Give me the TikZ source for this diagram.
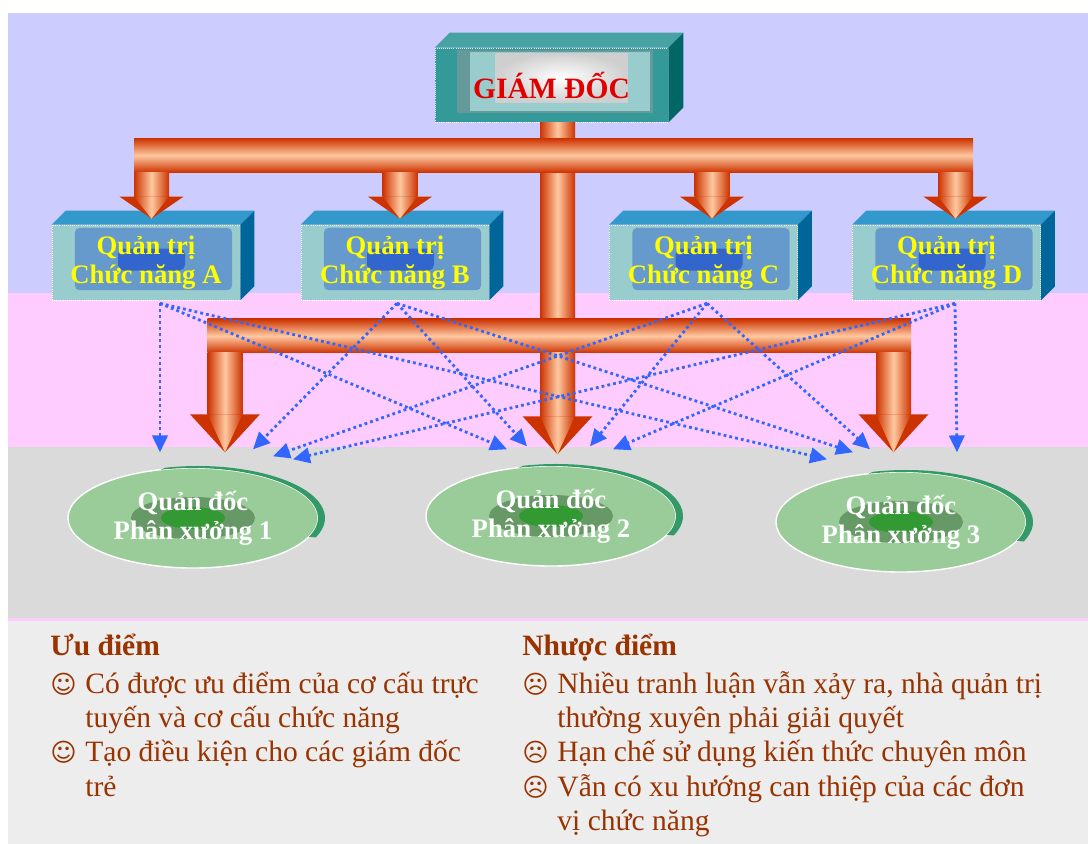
\documentclass[tikz,border=0pt]{standalone}
\usepackage{fontspec}
\setmainfont{Liberation Serif}
\newfontfamily\symfont{DejaVu Sans}
\usetikzlibrary{calc,positioning,arrows.meta,shapes.geometric}

\definecolor{skyband}{HTML}{CCCCFF}
\definecolor{pinkband}{HTML}{FFCCFF}
\definecolor{greyband}{HTML}{DADADA}
\definecolor{noteband}{HTML}{EDEDED}
\definecolor{gdteal}{HTML}{339999}
\definecolor{gdpanel}{HTML}{99CCCC}
\definecolor{gdbevel}{HTML}{669999}
\definecolor{gdcore}{HTML}{CFCFCF}
\definecolor{gdside}{HTML}{006666}
\definecolor{gdred}{HTML}{E00000}
\definecolor{unitfront}{HTML}{99CCCC}
\definecolor{unitpanel}{HTML}{6699CC}
\definecolor{unitcore}{HTML}{3366CC}
\definecolor{unittop}{HTML}{3399CC}
\definecolor{unitside}{HTML}{006699}
\definecolor{unittext}{HTML}{FFFF00}
\definecolor{shopgreen}{HTML}{99CC99}
\definecolor{shopdark}{HTML}{669966}
\definecolor{shopcore}{HTML}{339933}
\definecolor{shoprim}{HTML}{339966}
\definecolor{pipered}{HTML}{CC3300}
\definecolor{pipelight}{HTML}{FFC8A0}
\definecolor{flowblue}{HTML}{3366FF}
\definecolor{notebrown}{HTML}{993300}

\tikzset{
  pipeV/.style={left color=pipered, right color=pipered, middle color=pipelight},
  pipeH/.style={top color=pipered, bottom color=pipered, middle color=pipelight},
  bossbox/.style={rectangle, fill=gdteal, draw=white, densely dotted, line width=0.5pt,
    minimum width=5.825cm, minimum height=1.85cm, inner sep=0pt, text=gdred,
    font=\fontsize{21}{24}\selectfont\bfseries,
    path picture={
      \fill[gdbevel] ($(path picture bounding box.north west)+(22,2)$) rectangle ($(path picture bounding box.south east)+(-15,-9)$);
      \fill[gdpanel] ($(path picture bounding box.north west)+(35,4)$) rectangle ($(path picture bounding box.south east)+(-18,-11)$);
      \shade[inner color=white, outer color=gdcore] ($(path picture bounding box.center)+(-56,-32)$) rectangle ($(path picture bounding box.center)+(76,17)$);
    }},
  unitbox/.style={rectangle, fill=unitfront, draw=white, densely dotted, line width=0.5pt,
    minimum width=4.7cm, minimum height=1.875cm, inner sep=0pt, align=center, text=unittext,
    font=\fontsize{19}{20.6}\selectfont\bfseries,
    path picture={
      \fill[unitpanel, rounded corners=3pt] ($(path picture bounding box.north west)+(23,3)$) rectangle ($(path picture bounding box.south east)+(-8,-10)$);
      \fill[unitcore, rounded corners=4pt] ($(path picture bounding box.center)+(-28,-14)$) rectangle ($(path picture bounding box.center)+(39,8)$);
    }},
  shop/.style={ellipse, fill=shopgreen, draw=white, line width=1pt, minimum width=6.25cm,
    minimum height=2.5cm, inner sep=0pt, align=center, text=white,
    font=\fontsize{19}{20.6}\selectfont\bfseries,
    path picture={
      \fill[shopdark] (path picture bounding box.center) ellipse [x radius=62, y radius=21];
      \fill[shopcore] (path picture bounding box.center) ellipse [x radius=32, y radius=11];
    }},
  rim/.style={shoprim},
  flow/.style={flowblue, line width=2pt, dash pattern=on 2pt off 2.2pt,
    -{Triangle[width=11pt,length=12pt]}},
  note/.style={anchor=north west, inner sep=0pt, align=left, text=notebrown,
    font=\fontsize{21}{24.5}\selectfont},
}

% red pipe dropping from a bus line to a tip: tip, bus, head half width, head length
\newcommand{\dropto}[4]{%
  \shade[pipeV] ($(#1 |- #2)+(-17.5,17)$) rectangle ($(#1)+(17.5,-#4)$);
  \fill[pipered] ($(#1)+(-#3,-#4)$) -- ($(#1)+(#3,-#4)$) -- (#1) -- cycle;
  \shade[pipeV] ($(#1)+(-17.5,-#4)$) -- ($(#1)+(17.5,-#4)$) -- (#1) -- cycle;
}
\newcommand{\goodmark}{\makebox[25pt][l]{\symfont\fontsize{18}{18}\selectfont ☺}}
\newcommand{\badmark}{\makebox[25pt][l]{\symfont\fontsize{18}{18}\selectfont ☹}}
\newcommand{\hangpad}{\hspace*{25pt}}

\begin{document}
\begin{tikzpicture}[x=0.025cm,y=-0.025cm]
    \useasboundingbox (0,0) rectangle (1088,844);

    % background bands
    \fill[skyband] (8,13) rectangle (1088,293);
    \fill[pinkband] (8,293) rectangle (1088,447);
    \fill[greyband] (8,447) rectangle (1088,618);
    \fill[pinkband] (8,618) rectangle (1088,621);
    \fill[noteband] (8,621) rectangle (1088,844);

    % director
    \node[bossbox] (gd) at (551.5,85) {GIÁM ĐỐC};
    \fill[gdteal!90!white] (gd.north west) -- ++(15,-15) -- ($(gd.north east)+(15,-15)$) -- (gd.north east) -- cycle;
    \fill[gdside] (gd.north east) -- ++(15,-15) -- ($(gd.south east)+(15,-15)$) -- (gd.south east) -- cycle;

    % functional managers
    \node[unitbox] (qa) at (146,262.5) {Quản trị\\Chức năng A};
    \node[unitbox] (qb) at (395,262.5) {Quản trị\\Chức năng B};
    \node[unitbox] (qc) at (703.5,262.5) {Quản trị\\Chức năng C};
    \node[unitbox] (qd) at (946.5,262.5) {Quản trị\\Chức năng D};
    \foreach \b in {qa,qb,qc,qd}{
        \fill[unittop] (\b.north west) -- ++(14,-14) -- ($(\b.north east)+(14,-14)$) -- (\b.north east) -- cycle;
        \fill[unitside] (\b.north east) -- ++(14,-14) -- ($(\b.south east)+(14,-14)$) -- (\b.south east) -- cycle;
    }

    % shop foremen
    \node[shop] (p1) at (193,518) {Quản đốc\\Phân xưởng 1};
    \node[shop] (p2) at (551,516) {Quản đốc\\Phân xưởng 2};
    \node[shop] (p3) at (901,522) {Quản đốc\\Phân xưởng 3};
    \foreach \e in {p1,p2,p3}
        \fill[rim] ($(\e.center)+(5,0)+(-105:127 and 52)$) arc[start angle=-105, end angle=22, x radius=127, y radius=52]
            -- ($(\e.center)+(22:125 and 50)$) arc[start angle=22, end angle=-105, x radius=125, y radius=50] -- cycle;

    % line of command (red pipes)
    \coordinate (trunk) at ($(gd.south)+(6,0)$);
    \coordinate (bus1) at ($(trunk)+(0,33)$);
    \coordinate (bus2) at ($(trunk)+(0,213.5)$);
    \coordinate (ha) at ($(qa.north)+(5.5,-6)$);
    \coordinate (hb) at ($(qb.north)+(5,-6)$);
    \coordinate (hc) at ($(qc.north)+(8.5,-6)$);
    \coordinate (hd) at ($(qd.north)+(9,-6)$);
    \coordinate (h1) at ($(p1.north)+(32,-15)$);
    \coordinate (h2) at ($(p2.north)+(6.5,-11)$);
    \coordinate (h3) at ($(p3.north)+(-7.5,-19)$);

    \shade[pipeV] ($(trunk)+(-17.5,0)$) rectangle ($(h2)+(17.5,-38)$);
    \shade[pipeH] ($(ha |- bus1)+(-17.5,-17)$) rectangle ($(hd |- bus1)+(17.5,17)$);
    \shade[pipeH] ($(h1 |- bus2)+(-17.5,-17)$) rectangle ($(h3 |- bus2)+(17.5,17)$);
    \foreach \h in {ha,hb,hc,hd}{
        \dropto{\h}{bus1}{32}{22}
    }
    \foreach \h in {h1,h2,h3}{
        \dropto{\h}{bus2}{35}{38}
    }

    % functional advice (dotted arrows)
    \coordinate (sa) at ($(qa.south)+(14,3)$);
    \coordinate (sb) at ($(qb.south)+(2,3)$);
    \coordinate (sc) at ($(qc.south)+(3.5,3)$);
    \coordinate (sd) at ($(qd.south)+(8.5,3)$);
    \coordinate (ta1) at ($(p1.north)+(-33,-15)$);
    \coordinate (tb1) at ($(p1.north)+(60,-18)$);
    \coordinate (tc1) at ($(p1.north)+(80,-11)$);
    \coordinate (td1) at ($(p1.north)+(100,-8)$);
    \coordinate (ta2) at ($(p2.north)+(-44,-16)$);
    \coordinate (tb2) at ($(p2.north)+(-24,-19)$);
    \coordinate (tc2) at ($(p2.north)+(39,-19)$);
    \coordinate (td2) at ($(p2.north)+(62,-16)$);
    \coordinate (ta3) at ($(p3.north)+(-74,-12)$);
    \coordinate (tb3) at ($(p3.north)+(-48,-19)$);
    \coordinate (tc3) at ($(p3.north)+(-31,-22)$);
    \coordinate (td3) at ($(p3.north)+(56,-19)$);
    \foreach \s in {a,b,c,d}
        \foreach \p in {1,2,3}
            \draw[flow] (s\s) -- (t\s\p);

    % pros and cons
    \node[note] (pros) at (50,634) {\textbf{Ưu điểm}\\[2pt]
        \goodmark Có được ưu điểm của cơ cấu trực\\
        \hangpad tuyến và cơ cấu chức năng\\
        \goodmark Tạo điều kiện cho các giám đốc\\
        \hangpad trẻ};
    \node[note] (cons) at (522,634) {\textbf{Nhược điểm}\\[2pt]
        \badmark Nhiều tranh luận vẫn xảy ra, nhà quản trị\\
        \hangpad thường xuyên phải giải quyết\\
        \badmark Hạn chế sử dụng kiến thức chuyên môn\\
        \badmark Vẫn có xu hướng can thiệp của các đơn\\
        \hangpad vị chức năng};
\end{tikzpicture}
\end{document}
